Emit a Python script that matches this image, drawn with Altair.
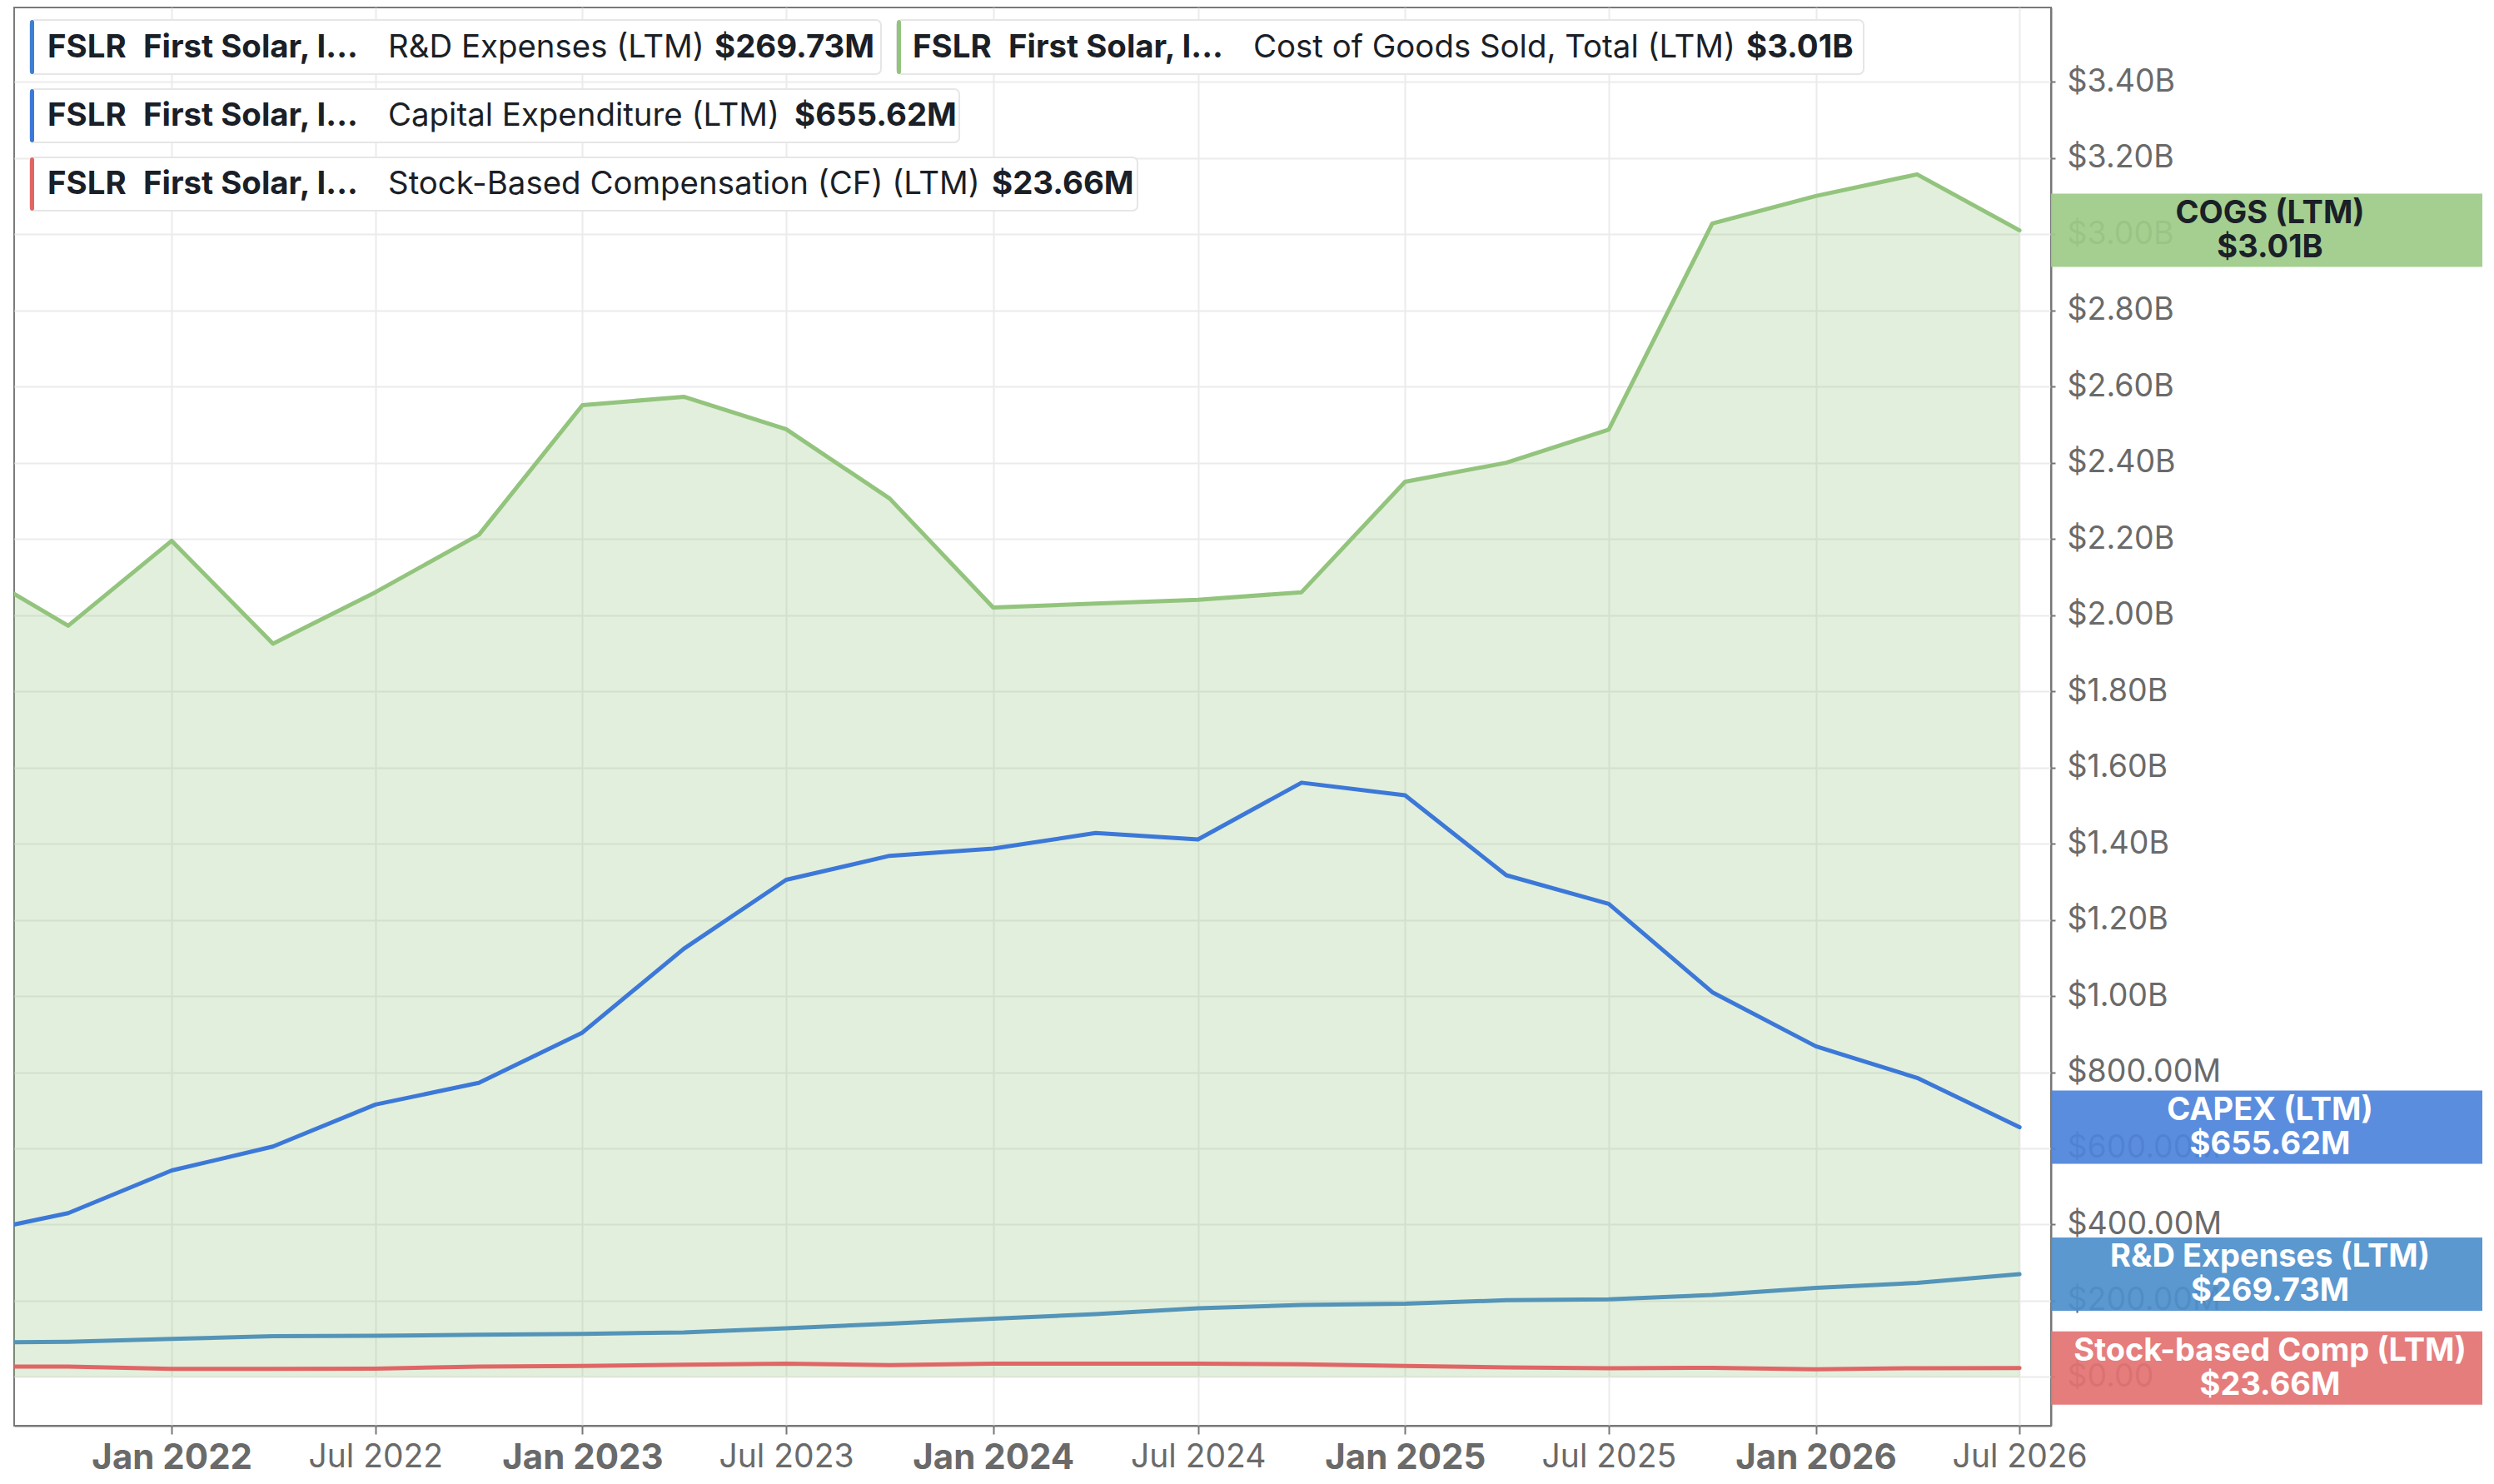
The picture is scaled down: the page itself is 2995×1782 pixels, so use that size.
import altair as alt
import pandas as pd

# ---------------- data ----------------
dates = [
    "2021-07-01", "2021-10-01", "2022-01-01", "2022-04-01", "2022-07-01",
    "2022-10-01", "2023-01-01", "2023-04-01", "2023-07-01", "2023-10-01",
    "2024-01-01", "2024-04-01", "2024-07-01", "2024-10-01", "2025-01-01",
    "2025-04-01", "2025-07-01", "2025-10-01", "2026-01-01", "2026-04-01",
    "2026-07-01",
]
# values in billions of USD
cogs = [2.132, 1.972, 2.195, 1.925, 2.060, 2.211, 2.551, 2.573, 2.488, 2.306,
        2.020, 2.030, 2.040, 2.060, 2.350, 2.400, 2.487, 3.028, 3.100, 3.157, 3.010]
capex = [0.373, 0.430, 0.542, 0.605, 0.715, 0.772, 0.904, 1.124, 1.305, 1.368,
         1.387, 1.428, 1.411, 1.560, 1.527, 1.317, 1.242, 1.010, 0.868, 0.785, 0.65562]
rnd = [0.090, 0.092, 0.100, 0.107, 0.108, 0.111, 0.113, 0.117, 0.128, 0.140,
       0.153, 0.165, 0.180, 0.189, 0.192, 0.2015, 0.204, 0.215, 0.234, 0.247, 0.26973]
sbc = [0.027, 0.027, 0.021, 0.021, 0.022, 0.027, 0.029, 0.032, 0.035, 0.031,
       0.035, 0.035, 0.035, 0.033, 0.029, 0.025, 0.023, 0.024, 0.020, 0.023, 0.02366]

series_keys = ["cogs", "capex", "rnd", "sbc"]
series_vals = {"cogs": cogs, "capex": capex, "rnd": rnd, "sbc": sbc}

legend_ticker = "FSLR"
legend_company = "First Solar, I..."
legend_names = {
    "rnd": "R&D Expenses (LTM)",
    "cogs": "Cost of Goods Sold, Total (LTM)",
    "capex": "Capital Expenditure (LTM)",
    "sbc": "Stock-Based Compensation (CF) (LTM)",
}
legend_values = {"rnd": "$269.73M", "cogs": "$3.01B", "capex": "$655.62M", "sbc": "$23.66M"}

box_titles = {"cogs": "COGS (LTM)", "capex": "CAPEX (LTM)",
              "rnd": "R&D Expenses (LTM)", "sbc": "Stock-based Comp (LTM)"}
box_values = {"cogs": "$3.01B", "capex": "$655.62M", "rnd": "$269.73M", "sbc": "$23.66M"}
last_values = {"cogs": 3.01e9, "capex": 655.62e6, "rnd": 269.73e6, "sbc": 23.66e6}

y_ticks = [0, 200e6, 400e6, 600e6, 800e6, 1.0e9, 1.2e9, 1.4e9, 1.6e9, 1.8e9,
           2.0e9, 2.2e9, 2.4e9, 2.6e9, 2.8e9, 3.0e9, 3.2e9, 3.4e9]
x_tick_dates = [(2022, 1), (2022, 7), (2023, 1), (2023, 7), (2024, 1), (2024, 7),
                (2025, 1), (2025, 7), (2026, 1), (2026, 7)]

# ---------------- styles ----------------
line_colors = {"cogs": "#93c47d", "capex": "#3c78d8", "rnd": "#5394b8", "sbc": "#e06666"}
bar_colors = {"cogs": "#93c47d", "capex": "#3c78d8", "rnd": "#3d7fd0", "sbc": "#e06666"}
box_colors = {"cogs": "#9dcb89", "capex": "#4f84db", "rnd": "#4f90cc", "sbc": "#e37373"}
box_text_colors = {"cogs": "#1b1f27", "capex": "#ffffff", "rnd": "#ffffff", "sbc": "#ffffff"}
FONT = "Inter"
TEXT_DARK = "#1b1f27"
AXIS_GREY = "#6a6a6a"
LEG_SIZE = 38.4

W, H = 2446, 1703

# ---------------- tables ----------------
rows = []
for k in series_keys:
    for d, v in zip(dates, series_vals[k]):
        rows.append({"date": d + "T00:00:00", "series": k, "value": v * 1e9})
df = pd.DataFrame(rows)
df_cogs = df[df.series == "cogs"]

x_enc = alt.X(
    "date:T",
    scale=alt.Scale(domain=[alt.DateTime(year=2021, month=8, date=14),
                            alt.DateTime(year=2026, month=7, date=29)], nice=False),
    axis=alt.Axis(
        values=[alt.DateTime(year=y, month=m, date=1) for y, m in x_tick_dates],
        format="%b %Y", title=None, labelFont=FONT, labelLimit=1000,
        labelFontSize=alt.condition("month(datum.value) == 0", alt.value(42), alt.value(39)),
        labelFontWeight=alt.condition("month(datum.value) == 0", alt.value("bold"), alt.value("normal")),
        labelColor=AXIS_GREY, labelPadding=8, labelFlush=False, labelOverlap=False,
        tickSize=10, tickWidth=2, tickColor="#777777",
        domainColor="#777777", domainWidth=2,
        gridColor="#ebebeb", gridWidth=2,
    ),
)
y_enc = alt.Y(
    "value:Q",
    scale=alt.Scale(domain=[-0.128e9, 3.595e9], nice=False, zero=False),
    axis=alt.Axis(
        orient="right", values=y_ticks, title=None, labelLimit=1000,
        labelExpr="datum.value == 0 ? '$0.00' : (datum.value >= 999999999 ? '$' + format(datum.value/1e9, '.2f') + 'B' : '$' + format(datum.value/1e6, '.2f') + 'M')",
        labelFont=FONT, labelFontSize=37.5, labelColor=AXIS_GREY, labelPadding=14,
        tickSize=5, tickWidth=2, tickColor="#777777",
        domainColor="#777777", domainWidth=2,
        gridColor="#ebebeb", gridWidth=2,
    ),
)

layers = []

# area under COGS
layers.append(
    alt.Chart(df_cogs).mark_area(color="#93c47d", opacity=0.27, clip=True)
    .encode(x=x_enc, y=y_enc, y2=alt.datum(0))
)

# lines
for k in ["cogs", "rnd", "capex", "sbc"]:
    layers.append(
        alt.Chart(df[df.series == k]).mark_line(color=line_colors[k], strokeWidth=5, clip=True,
                                                strokeJoin="round", strokeCap="round")
        .encode(x=x_enc, y=y_enc)
    )

one = alt.Data(values=[{"a": 1}])


def txt(x, y, s, weight="normal", size=LEG_SIZE, color=TEXT_DARK, align="left"):
    return alt.Chart(one).mark_text(
        text=s, font=FONT, fontSize=size, fontWeight=weight, color=color,
        align=align, baseline="middle",
    ).encode(x=alt.value(x), y=alt.value(y))


def legend_box(k, x0, x1, y0, y1, xt, xn, xv):
    out = []
    out.append(alt.Chart(one).mark_rect(fill="white", stroke="#e6e6e6", strokeWidth=2, cornerRadius=6)
               .encode(x=alt.value(x0), x2=alt.value(x1), y=alt.value(y0), y2=alt.value(y1)))
    out.append(alt.Chart(one).mark_rect(fill=bar_colors[k], cornerRadius=3)
               .encode(x=alt.value(x0), x2=alt.value(x0 + 5), y=alt.value(y0), y2=alt.value(y1)))
    yc = (y0 + y1) / 2
    out.append(txt(xt, yc, legend_ticker, "bold"))
    out.append(txt(xt + 115, yc, legend_company, "bold"))
    out.append(txt(xn, yc, legend_names[k]))
    out.append(txt(xv, yc, legend_values[k], "bold"))
    return out


layers += legend_box("rnd", 19, 1041, 15, 80, 40, 449, 841)
layers += legend_box("cogs", 1060, 2221, 15, 80, 1079, 1488, 2080)
layers += legend_box("capex", 19, 1135, 98, 162, 40, 449, 937)
layers += legend_box("sbc", 19, 1349, 180, 244, 40, 449, 1174)

# right-hand value boxes
for k in series_keys:
    d = pd.DataFrame({"value": [last_values[k]]})
    layers.append(
        alt.Chart(d).mark_rect(fill=box_colors[k], opacity=0.93, yOffset=-44, y2Offset=44)
        .encode(x=alt.value(W), x2=alt.value(W + 518), y=y_enc, y2=alt.Y2("value"))
    )
    layers.append(
        alt.Chart(d).mark_text(text=box_titles[k], font=FONT, fontSize=38, fontWeight="bold",
                               color=box_text_colors[k], align="center", baseline="middle", dy=-20)
        .encode(x=alt.value(W + 263), y=y_enc)
    )
    layers.append(
        alt.Chart(d).mark_text(text=box_values[k], font=FONT, fontSize=38, fontWeight="bold",
                               color=box_text_colors[k], align="center", baseline="middle", dy=21)
        .encode(x=alt.value(W + 263), y=y_enc)
    )

chart = (
    alt.layer(*layers)
    .properties(
        width=W, height=H,
        padding={"left": 9, "top": 1, "right": 522, "bottom": 62},
        autosize=alt.AutoSizeParams(type="none"),
        background="white",
    )
    .configure_view(stroke="#7a7a7a", strokeWidth=2)
)

chart.save("out.html", embed_options={"renderer": "svg", "actions": False})
